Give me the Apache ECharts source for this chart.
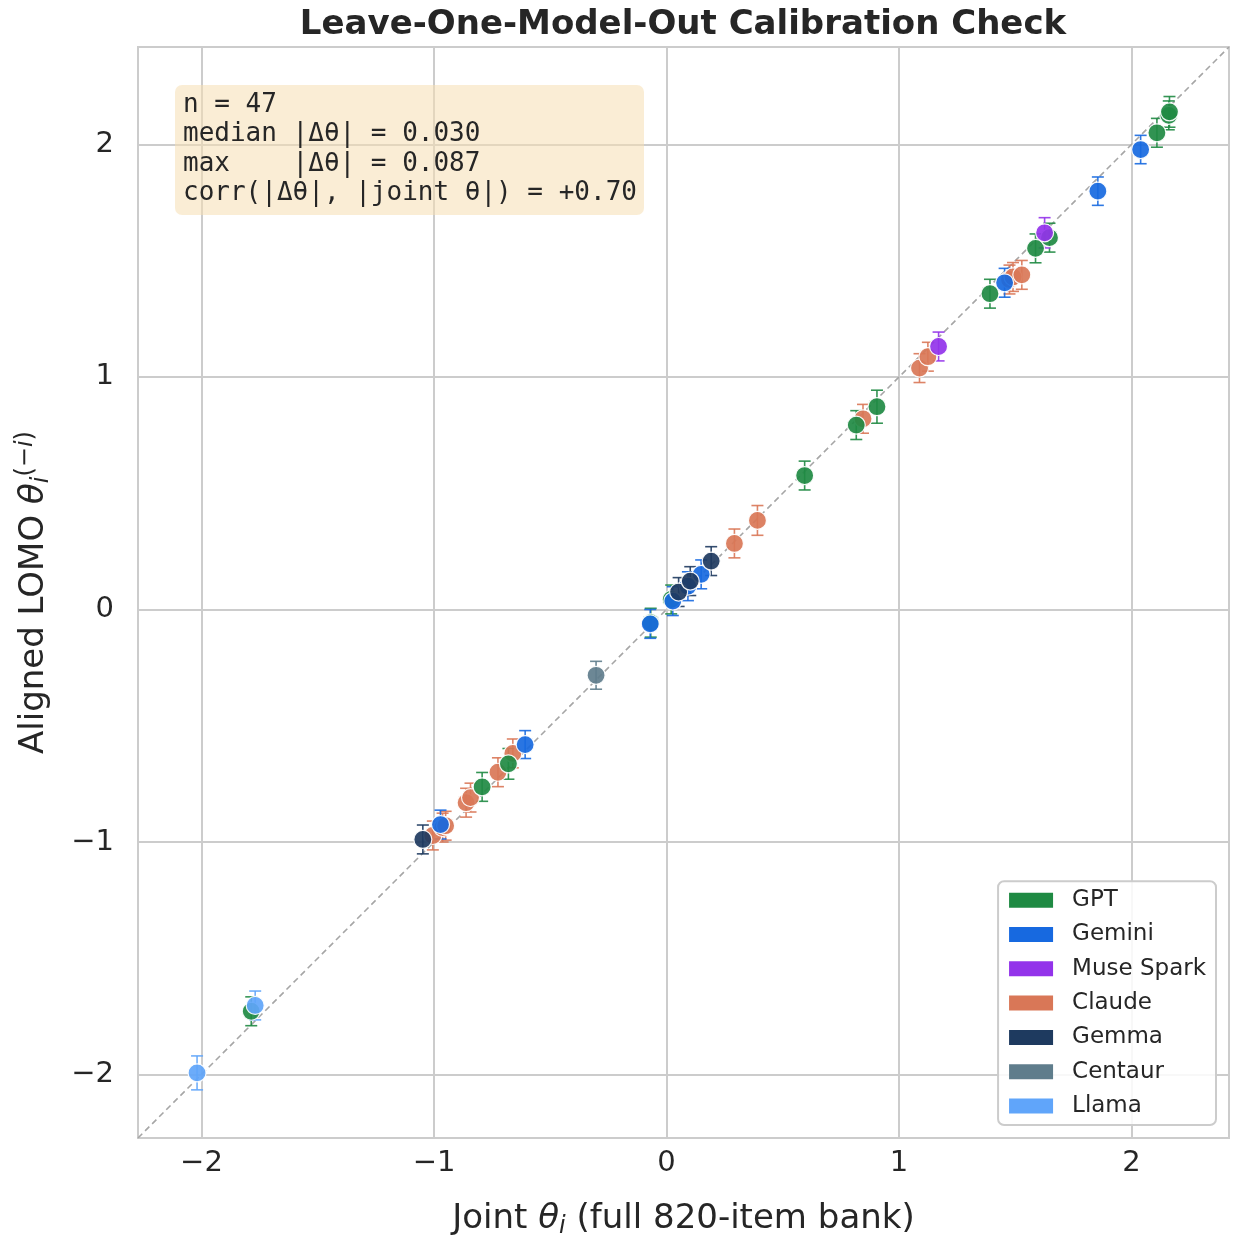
<!DOCTYPE html>
<html><head><meta charset="utf-8">
<script src="https://cdn.jsdelivr.net/npm/echarts@6/dist/echarts.min.js"></script>
<style>html,body{margin:0;padding:0;background:#fff}#c{width:1233px;height:1240px}</style>
</head><body><div id="c"></div>
<script>
// ---------------- data ----------------
const families = ['GPT', 'Gemini', 'Muse Spark', 'Claude', 'Gemma', 'Centaur', 'Llama'];
const familyColors = ['#1f8a43', '#1769e0', '#9333ea', '#d97757', '#1e3a5f', '#5f7d8c', '#60a5fa'];

const jointGPT = [-1.786, -0.793, -0.680, -0.068, 0.020, 0.594, 0.816, 0.905, 1.391, 1.587, 1.647, 2.109, 2.160, 2.163];
const lomoGPT  = [-1.728, -0.763, -0.664, -0.057, 0.043, 0.576, 0.793, 0.872, 1.358, 1.553, 1.599, 2.050, 2.125, 2.140];
const errGPT   = [0.062, 0.062, 0.066, 0.062, 0.062, 0.062, 0.062, 0.071, 0.062, 0.062, 0.062, 0.062, 0.062, 0.066];

const jointGemini = [-0.972, -0.608, -0.070, 0.027, 0.092, 0.149, 1.454, 1.855, 2.039];
const lomoGemini  = [-0.925, -0.581, -0.062, 0.036, 0.100, 0.151, 1.405, 1.799, 1.978];
const errGemini   = [0.062, 0.060, 0.062, 0.062, 0.062, 0.062, 0.062, 0.061, 0.061];

const jointMuse = [1.170, 1.626];
const lomoMuse  = [1.131, 1.620];
const errMuse   = [0.062, 0.065];

const jointClaude = [-1.005, -0.963, -0.950, -0.862, -0.843, -0.725, -0.661, 0.292, 0.391, 0.845, 1.088, 1.124, 1.475, 1.490, 1.528];
const lomoClaude  = [-0.972, -0.938, -0.930, -0.831, -0.809, -0.700, -0.619, 0.284, 0.383, 0.820, 1.038, 1.087, 1.419, 1.430, 1.439];
const errClaude   = [0.062, 0.062, 0.062, 0.062, 0.062, 0.062, 0.062, 0.062, 0.064, 0.062, 0.062, 0.062, 0.062, 0.062, 0.062];

const jointGemma = [-1.048, 0.052, 0.102, 0.192];
const lomoGemma  = [-0.989, 0.075, 0.122, 0.208];
const errGemma   = [0.062, 0.062, 0.062, 0.062];

const jointCentaur = [-0.303];
const lomoCentaur  = [-0.283];
const errCentaur   = [0.060];

const jointLlama = [-2.019, -1.769];
const lomoLlama  = [-1.993, -1.703];
const errLlama   = [0.073, 0.062];

const tickValues = [-2, -1, 0, 1, 2];
const axisLimits = [-2.273, 2.419];
const statLines = ['n = 47', 'median |Δθ| = 0.030', 'max    |Δθ| = 0.087', 'corr(|Δθ|, |joint θ|) = +0.70'];
const titleText = 'Leave-One-Model-Out Calibration Check';

// ---------------- build ----------------
const famData = {
  'GPT': [jointGPT, lomoGPT, errGPT],
  'Gemini': [jointGemini, lomoGemini, errGemini],
  'Muse Spark': [jointMuse, lomoMuse, errMuse],
  'Claude': [jointClaude, lomoClaude, errClaude],
  'Gemma': [jointGemma, lomoGemma, errGemma],
  'Centaur': [jointCentaur, lomoCentaur, errCentaur],
  'Llama': [jointLlama, lomoLlama, errLlama]
};
const drawOrder = ['Claude', 'GPT', 'Gemini', 'Muse Spark', 'Gemma', 'Centaur', 'Llama'];
const colorOf = name => familyColors[families.indexOf(name)];
const rows = name => famData[name][0].map((x, i) => [x, famData[name][1][i], famData[name][2][i]]);

const TXT = '#262626';
const minusFmt = v => (v < 0 ? '\u2212' + Math.abs(v) : String(v));

const series = [];
series.push({
  type: 'line', name: 'identity', silent: true, symbol: 'none', z: 1,
  data: [[axisLimits[0], axisLimits[0]], [axisLimits[1], axisLimits[1]]],
  lineStyle: { color: '#a6a6a6', width: 1.6, type: [6, 4] }
});
drawOrder.forEach(name => {
  const col = colorOf(name);
  series.push({
    type: 'custom', name: name + ' err', silent: true, z: 2,
    encode: { x: 0, y: 1 },
    data: rows(name),
    renderItem: (params, api) => {
      const x = api.value(0), y = api.value(1), e = api.value(2);
      const t = api.coord([x, y + e]), b = api.coord([x, y - e]);
      const c = 6;
      const st = { stroke: col, lineWidth: 1.6, opacity: 0.9 };
      return { type: 'group', children: [
        { type: 'line', shape: { x1: t[0], y1: t[1], x2: b[0], y2: b[1] }, style: st },
        { type: 'line', shape: { x1: t[0] - c, y1: t[1], x2: t[0] + c, y2: t[1] }, style: st },
        { type: 'line', shape: { x1: b[0] - c, y1: b[1], x2: b[0] + c, y2: b[1] }, style: st }
      ]};
    }
  });
});
drawOrder.forEach(name => {
  series.push({
    type: 'scatter', name: name, z: 3,
    data: rows(name).map(r => [r[0], r[1]]),
    symbolSize: 18,
    itemStyle: { color: colorOf(name), borderColor: '#ffffff', borderWidth: 1.2, opacity: 0.92 }
  });
});

const axisCommon = {
  type: 'value', min: axisLimits[0], max: axisLimits[1],
  axisLine: { show: false },
  axisTick: { show: false, customValues: tickValues },
  splitLine: { show: true, lineStyle: { color: '#cccccc', width: 2 } },
  nameLocation: 'middle',
  nameTextStyle: {
    rich: {
      n: { fontSize: 34, color: TXT, fontFamily: 'DejaVu Sans', lineHeight: 40 },
      it: { fontSize: 34, color: TXT, fontFamily: 'DejaVu Sans', fontStyle: 'italic', lineHeight: 40 },
      sub: { fontSize: 24, color: TXT, fontFamily: 'DejaVu Sans', fontStyle: 'italic', verticalAlign: 'bottom', lineHeight: 24 },
      sup: { fontSize: 24, color: TXT, fontFamily: 'DejaVu Sans', verticalAlign: 'top', lineHeight: 24 },
      supi: { fontSize: 24, color: TXT, fontFamily: 'DejaVu Sans', fontStyle: 'italic', verticalAlign: 'top', lineHeight: 24 }
    }
  }
};

const option = {
  backgroundColor: '#ffffff',
  animation: false,
  title: {
    text: titleText, left: 678, top: 3, textAlign: 'center',
    textStyle: { fontFamily: 'DejaVu Sans', fontWeight: 'bold', fontSize: 34, color: TXT }
  },
  grid: { left: 138, right: 4, top: 47, bottom: 102, show: true, borderColor: '#cccccc', borderWidth: 2,
          containLabel: false, outerBoundsMode: 'none' },
  xAxis: Object.assign({}, axisCommon, {
    name: '{n|Joint }{it|θ}{sub|i}{n| (full 820-item bank)}',
    nameGap: 61,
    axisLabel: { customValues: tickValues, formatter: minusFmt, fontSize: 29, color: TXT, fontFamily: 'DejaVu Sans', margin: 11 }
  }),
  yAxis: Object.assign({}, axisCommon, {
    name: '{n|Aligned LOMO }{it|θ}{sub|i}{sup|(−}{supi|i}{sup|)}',
    nameGap: 84,
    axisLabel: { customValues: tickValues, formatter: minusFmt, fontSize: 29, color: TXT, fontFamily: 'DejaVu Sans', margin: 24 }
  }),
  legend: {
    data: families, orient: 'vertical', right: 17, bottom: 115,
    icon: 'rect', itemWidth: 44, itemHeight: 15, itemGap: 10.3,
    padding: [7, 10, 7, 11],
    backgroundColor: 'rgba(255,255,255,0.85)', borderColor: '#cccccc', borderWidth: 2, borderRadius: 6,
    itemStyle: { borderWidth: 0, opacity: 1 },
    textStyle: { fontSize: 23, color: TXT, fontFamily: 'DejaVu Sans', lineHeight: 24, padding: [0, 0, 0, 14] }
  },
  graphic: [
    { type: 'rect', left: 175, top: 85, z: 50,
      shape: { width: 469, height: 130, r: 7 },
      style: { fill: 'rgba(245,222,179,0.55)' } },
    { type: 'text', left: 183, top: 90, z: 51,
      style: { text: statLines.join('\n'), font: '26px "DejaVu Sans Mono"', fill: TXT, lineHeight: 29.5 } }
  ],
  series: series
};

const chart = echarts.init(document.getElementById('c'), null, { renderer: 'canvas' });
chart.setOption(option);
</script>
</body></html>
